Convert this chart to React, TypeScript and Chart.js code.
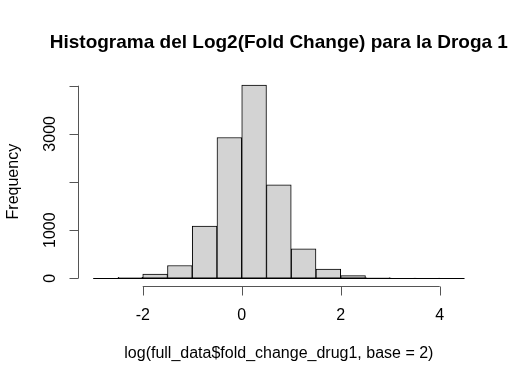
import React, { useEffect, useRef } from "react";
import { Chart, registerables } from "chart.js";

Chart.register(...registerables);

const binStarts = [-3, -2.5, -2, -1.5, -1, -0.5, 0, 0.5, 1, 1.5, 2, 2.5, 3, 3.5, 4];
const binWidth = 0.5;
const counts = [1, 18, 85, 265, 1085, 2925, 4014, 1940, 612, 190, 55, 16, 4, 3, 1];
const xTicks = [-2, 0, 2, 4];
const yTicks = [0, 1000, 2000, 3000, 4000];
const yTickLabels = ["0", "1000", "", "3000", ""];
const titleText = "Histograma del Log2(Fold Change) para la Droga 1";
const xLabel = "log(full_data$fold_change_drug1, base = 2)";
const yLabel = "Frequency";

const FONT = '"Liberation Sans", Arial, Helvetica, sans-serif';

const rAxesPlugin = {
  id: "rAxes",
  afterDatasetsDraw(chart: any) {
    const ctx = chart.ctx;
    const xs = chart.scales.x;
    const ys = chart.scales.y;
    const area = chart.chartArea;
    ctx.save();
    ctx.strokeStyle = "#000";
    ctx.fillStyle = "#000";
    ctx.lineWidth = 1;
    // baseline under all bins (R draws zero-height rects as lines)
    const y0 = Math.round(ys.getPixelForValue(0)) + 0.5;
    ctx.beginPath();
    ctx.moveTo(xs.getPixelForValue(binStarts[0]), y0);
    ctx.lineTo(xs.getPixelForValue(binStarts[binStarts.length - 1] + binWidth), y0);
    ctx.stroke();

    // x axis
    const xb = Math.round(area.bottom) + 0.5;
    ctx.strokeStyle = "#555";
    ctx.beginPath();
    ctx.moveTo(xs.getPixelForValue(xTicks[0]), xb);
    ctx.lineTo(xs.getPixelForValue(xTicks[xTicks.length - 1]), xb);
    xTicks.forEach((t) => {
      const px = Math.round(xs.getPixelForValue(t)) + 0.5;
      ctx.moveTo(px, xb);
      ctx.lineTo(px, xb + 9);
    });
    ctx.stroke();
    ctx.font = `16px ${FONT}`;
    ctx.textAlign = "center";
    ctx.textBaseline = "alphabetic";
    ctx.fillStyle = "#000";
    xTicks.forEach((t) => {
      ctx.fillText(String(t), xs.getPixelForValue(t), 320);
    });

    // y axis
    const xl = Math.round(area.left) + 0.5;
    ctx.beginPath();
    ctx.moveTo(xl, ys.getPixelForValue(yTicks[0]));
    ctx.lineTo(xl, ys.getPixelForValue(yTicks[yTicks.length - 1]));
    yTicks.forEach((t) => {
      const py = Math.round(ys.getPixelForValue(t)) + 0.5;
      ctx.moveTo(xl, py);
      ctx.lineTo(xl - 9, py);
    });
    ctx.stroke();
    yTicks.forEach((t, i) => {
      const lab = yTickLabels[i];
      if (!lab) return;
      ctx.save();
      ctx.translate(55, ys.getPixelForValue(t));
      ctx.rotate(-Math.PI / 2);
      ctx.textAlign = "center";
      ctx.fillText(lab, 0, 0);
      ctx.restore();
    });

    // axis titles
    ctx.textAlign = "center";
    ctx.fillText(xLabel, (area.left + area.right) / 2, 358);
    ctx.save();
    ctx.translate(18, (area.top + area.bottom) / 2);
    ctx.rotate(-Math.PI / 2);
    ctx.fillText(yLabel, 0, 0);
    ctx.restore();

    // main title
    ctx.font = `bold 19px ${FONT}`;
    ctx.fillText(titleText, (area.left + area.right) / 2, 48);
    ctx.restore();
  },
};

export default function App() {
  const ref = useRef<HTMLCanvasElement | null>(null);
  useEffect(() => {
    if (!ref.current) return;
    const xMin = binStarts[0];
    const xMax = binStarts[binStarts.length - 1] + binWidth;
    const xPad = (xMax - xMin) * 0.04;
    const yMax = Math.max(...counts);
    const yPad = yMax * 0.04;
    const chart = new Chart(ref.current, {
      type: "bar",
      data: {
        datasets: [
          {
            data: binStarts.map((b, i) => ({ x: b + binWidth / 2, y: counts[i] })),
            backgroundColor: "#d3d3d3",
            borderColor: "#000",
            borderWidth: 1,
            borderSkipped: false,
            barPercentage: 1,
            categoryPercentage: 1,
          } as any,
        ],
      },
      options: {
        animation: false,
        responsive: false,
        maintainAspectRatio: false,
        layout: { padding: { left: 78.4, right: 40.7, top: 77.3, bottom: 98 } },
        plugins: { legend: { display: false }, title: { display: false }, tooltip: { enabled: false } },
        scales: {
          x: { type: "linear", min: xMin - xPad, max: xMax + xPad, display: false, offset: false },
          y: { type: "linear", min: -yPad, max: yMax + yPad, display: false },
        },
      },
      plugins: [rAxesPlugin],
    });
    return () => chart.destroy();
  }, []);
  return (
    <div style={{ position: "fixed", left: 0, top: 0, width: 520, height: 384, background: "#fff" }}>
      <canvas ref={ref} width={520} height={384} style={{ width: 520, height: 384 }} />
    </div>
  );
}
